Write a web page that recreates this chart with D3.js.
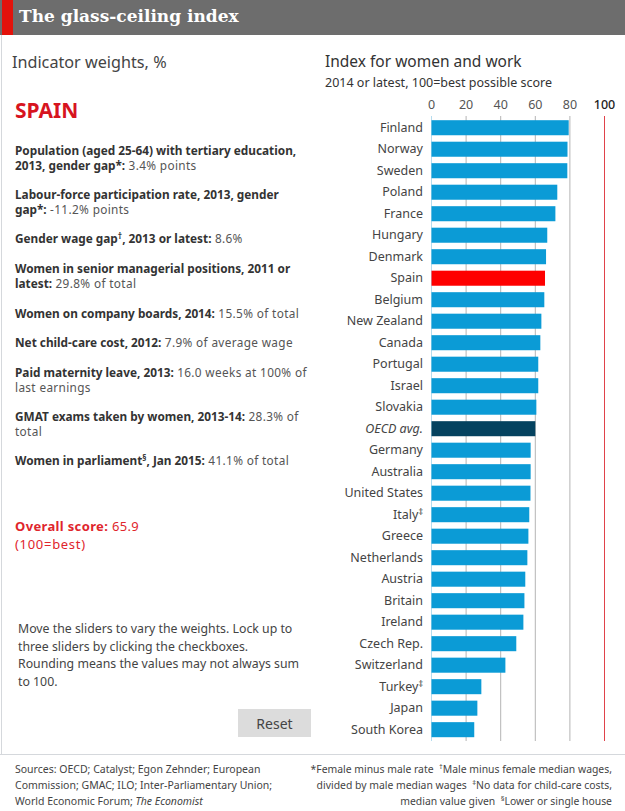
<!DOCTYPE html>
<html>
<head>
<meta charset="utf-8">
<script src="https://cdnjs.cloudflare.com/ajax/libs/d3/7.8.5/d3.min.js"></script>
<style>
  html, body { margin: 0; padding: 0; background: #fff; }
  svg { display: block; }
  text { font-family: "Noto Sans", sans-serif; white-space: pre; }
</style>
</head>
<body>
<div id="chart"></div>
<script>
// chart values
const countries = ["Finland", "Norway", "Sweden", "Poland", "France", "Hungary", "Denmark", "Spain",
  "Belgium", "New Zealand", "Canada", "Portugal", "Israel", "Slovakia", "OECD avg.", "Germany",
  "Australia", "United States", "Italy‡", "Greece", "Netherlands", "Austria", "Britain", "Ireland",
  "Czech Rep.", "Switzerland", "Turkey‡", "Japan", "South Korea"];
const scores = [79.6, 78.9, 78.8, 73.0, 71.9, 67.2, 66.5, 65.9,
  65.5, 63.8, 63.2, 62.0, 62.0, 60.9, 60.3, 57.6,
  57.6, 57.5, 56.8, 56.3, 55.7, 54.5, 54.0, 53.4,
  49.3, 43.0, 29.1, 26.8, 25.0];
const tickValues = [0, 20, 40, 60, 80, 100];

// each indicator is a list of lines, each line is [bold part, plain part]
const indicators = [
  [["Population (aged 25-64) with tertiary education,", ""], ["2013, gender gap*:", " 3.4% points"]],
  [["Labour-force participation rate, 2013, gender", ""], ["gap*:", " -11.2% points"]],
  [["Gender wage gap^†^, 2013 or latest:", " 8.6%"]],
  [["Women in senior managerial positions, 2011 or", ""], ["latest:", " 29.8% of total"]],
  [["Women on company boards, 2014:", " 15.5% of total"]],
  [["Net child-care cost, 2012:", " 7.9% of average wage"]],
  [["Paid maternity leave, 2013:", " 16.0 weeks at 100% of"], ["", "last earnings"]],
  [["GMAT exams taken by women, 2013-14:", " 28.3% of"], ["", "total"]],
  [["Women in parliament^§^, Jan 2015:", " 41.1% of total"]]
];
const indicatorTops = [155, 199, 243, 273, 318, 347, 377, 421, 465];
const helpLines = ["Move the sliders to vary the weights. Lock up to", "three sliders by clicking the checkboxes.",
  "Rounding means the values may not always sum", "to 100."];
const sourceLines = ["Sources: OECD; Catalyst; Egon Zehnder; European", "Commission; GMAC; ILO; Inter-Parliamentary Union;",
  "World Economic Forum; _The Economist_"];
const noteLines = ["*Female minus male rate  ^†^Male minus female median wages,", "divided by male median wages  ^‡^No data for child-care costs,",
  "median value given  ^§^Lower or single house"];

const width = 625, height = 811;
const svg = d3.select("#chart").append("svg").attr("width", width).attr("height", height);

// writes a string into a text node, ^x^ goes superscript and _x_ goes italic
function addRich(node, str, weight) {
  let parts = str.split(/(\^[^^]*\^|_[^_]*_)/);
  let raise = false;
  parts.forEach(p => {
    if (!p) return;
    let t = node.append("tspan").attr("font-weight", weight);
    if (raise) { t.attr("dy", 4); raise = false; }
    if (p[0] == "^") {
      t.text(p.slice(1, -1)).attr("dy", -4).attr("font-size", "0.72em");
      raise = true;
    } else if (p[0] == "_") {
      t.text(p.slice(1, -1)).attr("font-style", "italic");
    } else {
      t.text(p);
    }
  });
}

// header band
svg.append("rect").attr("x", 0).attr("y", 0).attr("width", width).attr("height", 35).attr("fill", "#6d6d6d");
svg.append("rect").attr("x", 2).attr("y", 0).attr("width", 11).attr("height", 35).attr("fill", "#e3120b");
svg.append("text").attr("x", 19).attr("y", 22).text("The glass-ceiling index")
  .attr("fill", "#fff").attr("font-size", 17).attr("font-weight", "bold")
  .style("font-family", "'DejaVu Serif', serif");

// frame lines
svg.append("line").attr("x1", 1.5).attr("x2", 1.5).attr("y1", 35).attr("y2", 754).attr("stroke", "#d5d8dc");
svg.append("line").attr("x1", 0).attr("x2", width).attr("y1", 754.5).attr("y2", 754.5).attr("stroke", "#d5d8dc");

// left panel
let left = svg.append("g");
left.append("text").attr("x", 12).attr("y", 68).text("Indicator weights, %")
  .attr("font-size", 16.2).attr("fill", "#444");
left.append("text").attr("x", 15).attr("y", 118).text("SPAIN")
  .attr("font-size", 21).attr("font-weight", "bold").attr("fill", "#d7141f");

// one text per indicator, wrapped lines are tspans
indicators.forEach((lines, i) => {
  let t = left.append("text").attr("x", 15).attr("y", indicatorTops[i])
    .attr("font-size", 11.8).attr("fill", "#333");
  lines.forEach((line, j) => {
    let row = t.append("tspan").attr("x", 15).attr("dy", j == 0 ? 0 : 15);
    addRich(row, line[0], "bold");
    row.append("tspan").text(line[1]).attr("fill", "#555").attr("letter-spacing", 0.35);
  });
});

let score = left.append("text").attr("x", 15).attr("y", 530.5).attr("font-size", 13).attr("fill", "#e0252c")
  .attr("letter-spacing", 0.35);
score.append("tspan").text("Overall score:").attr("font-weight", "bold");
score.append("tspan").text(" 65.9");
score.append("tspan").text("(100=best)").attr("x", 15).attr("dy", 18).attr("letter-spacing", 0.7);

left.selectAll(".help").data(helpLines).enter().append("text")
  .attr("class", "help").attr("x", 18).attr("y", (d, i) => 633 + i * 17.6)
  .attr("font-size", 12.3).attr("fill", "#444").text(d => d);

left.append("rect").attr("x", 238).attr("y", 709).attr("width", 73).attr("height", 28).attr("fill", "#dcdcdc");
left.append("text").attr("x", 274.5).attr("y", 729).attr("text-anchor", "middle").text("Reset")
  .attr("font-size", 14).attr("fill", "#444");

// footer
left.selectAll(".source").data(sourceLines).enter().append("text")
  .attr("class", "source").attr("x", 15).attr("y", (d, i) => 773 + i * 16)
  .attr("font-size", 10.5).attr("fill", "#444")
  .each(function(d) { addRich(d3.select(this), d, "normal"); });
left.selectAll(".note").data(noteLines).enter().append("text")
  .attr("class", "note").attr("x", 612).attr("y", (d, i) => 773 + i * 16)
  .attr("text-anchor", "end").attr("font-size", 10.4).attr("fill", "#444")
  .each(function(d) { addRich(d3.select(this), d, "normal"); });

// chart panel
svg.append("text").attr("x", 325).attr("y", 67).text("Index for women and work")
  .attr("font-size", 15.5).attr("fill", "#333");
svg.append("text").attr("x", 325).attr("y", 87).text("2014 or latest, 100=best possible score")
  .attr("font-size", 12.5).attr("fill", "#333");

let xScale = d3.scaleLinear().domain([0, 100]).range([431, 604]);
let yScale = d3.scaleBand().domain(countries).range([120.2, 737.2]).paddingInner(0.3).paddingOuter(0);

let gridTop = 116, gridBottom = 741;

let xAxis = svg.append("g").attr("transform", "translate(0," + gridTop + ")")
  .call(d3.axisTop(xScale).tickValues(tickValues).tickSize(gridTop - gridBottom).tickPadding(0));
xAxis.select(".domain").remove();
xAxis.selectAll("line")
  .attr("stroke", d => d == 100 ? "#e0424a" : (d == 0 ? "#b5dcee" : "#b4b4b4"));
xAxis.selectAll("text")
  .attr("y", -7).attr("dy", 0)
  .attr("font-size", 12.5)
  .attr("font-weight", d => d == 100 ? 500 : 400)
  .attr("fill", d => d == 100 ? "#222" : "#555");

svg.selectAll(".bar").data(countries).enter().append("rect")
  .attr("class", "bar")
  .attr("x", xScale(0) + 0.5)
  .attr("y", d => yScale(d))
  .attr("width", (d, i) => xScale(scores[i]) - xScale(0) - 0.5)
  .attr("height", yScale.bandwidth())
  .attr("fill", d => d == "Spain" ? "#fe0000" : (d == "OECD avg." ? "#04425f" : "#0b9bd6"));

let yAxis = svg.append("g").attr("transform", "translate(423,0)")
  .call(d3.axisLeft(yScale).tickSize(0).tickPadding(0));
yAxis.select(".domain").remove();
yAxis.selectAll("text")
  .attr("font-size", 12.5).attr("fill", "#444")
  .attr("font-style", d => d == "OECD avg." ? "italic" : "normal")
  .text(null)
  .each(function(d) { addRich(d3.select(this), d.replace("‡", "^‡^"), "normal"); });
</script>
</body>
</html>
